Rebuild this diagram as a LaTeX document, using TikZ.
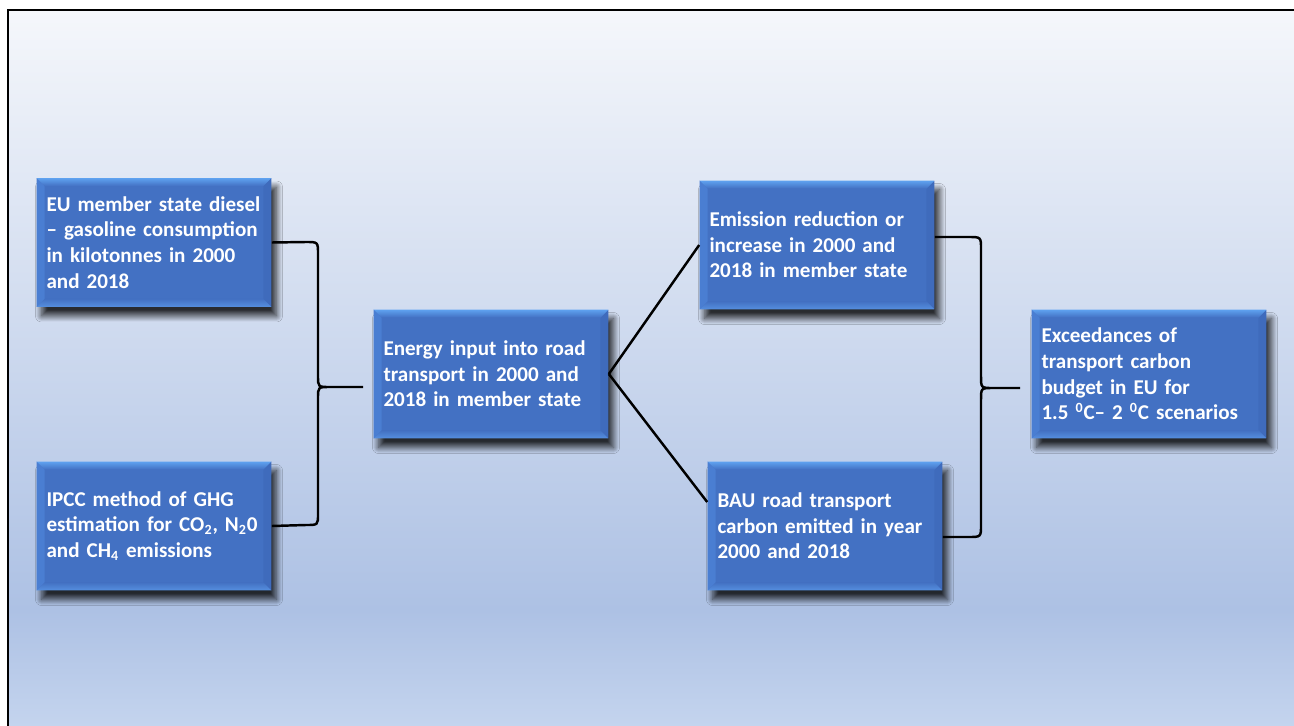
\documentclass[tikz,border=0pt]{standalone}
\usepackage{fontspec}
\setmainfont{Carlito}
\usetikzlibrary{calc, shadows.blur}

\definecolor{boxface}{HTML}{4371C3}
\definecolor{beveltop}{HTML}{5FA2F0}
\definecolor{bevelbot}{HTML}{5690E0}
\definecolor{bevelleft}{HTML}{4A7ED2}
\definecolor{bevelright}{HTML}{3F6BBC}
\definecolor{bgtop}{HTML}{F5F7FB}
\definecolor{bgdeep}{HTML}{ADC1E4}
\definecolor{bgbot}{HTML}{C4D4EE}

\newcommand{\bvl}{0.16cm}

\tikzset{
  bevel/.style={path picture={
    \path (path picture bounding box.north west) coordinate (pnw)
          (path picture bounding box.north east) coordinate (pne)
          (path picture bounding box.south east) coordinate (pse)
          (path picture bounding box.south west) coordinate (psw);
    \fill[bevelleft] (pnw) -- ([shift={(\bvl,-\bvl)}]pnw) -- ([shift={(\bvl,\bvl)}]psw) -- (psw) -- cycle;
    \fill[bevelright] (pne) -- ([shift={(-\bvl,-\bvl)}]pne) -- ([shift={(-\bvl,\bvl)}]pse) -- (pse) -- cycle;
    \shade[top color=beveltop, bottom color=boxface] (pnw) -- (pne) -- ([shift={(-\bvl,-\bvl)}]pne) -- ([shift={(\bvl,-\bvl)}]pnw) -- cycle;
    \shade[top color=boxface, bottom color=bevelbot] (psw) -- (pse) -- ([shift={(-\bvl,\bvl)}]pse) -- ([shift={(\bvl,\bvl)}]psw) -- cycle;
  }}
}

\begin{document}
\begin{tikzpicture}[
  x=0.02cm, y=-0.02cm,
  font=\fontsize{12}{14.6}\selectfont\bfseries,
  block/.style={rectangle, fill=boxface, text=white, minimum width=4.68cm, minimum height=2.58cm,
    text width=4.3cm, inner xsep=0.2cm, inner ysep=0pt, align=left, bevel,
    blur shadow={shadow xshift=0.1cm, shadow yshift=-0.18cm, shadow blur radius=0.12cm,
      shadow blur steps=12, shadow opacity=80}},
  brace/.style={line width=1.4pt},
  link/.style={line width=1.4pt}
]
  % page and backdrop
  \useasboundingbox (0,0) rectangle (1294,726);
  \fill[white] (0,0) rectangle (1294,726);
  \shade[top color=bgtop, bottom color=bgdeep] (8,10) rectangle (1294,610);
  \shade[top color=bgdeep, bottom color=bgbot] (8,610) rectangle (1294,726);
  \draw[line width=1.3pt] (1294,10) -- (8,10) -- (8,726);

  % boxes
  \node[block] (fuel) at (154,242.5) {EU member state diesel\\ -- gasoline consumption\\ in kilotonnes in 2000\\ and 2018};
  \node[block] (ipcc) at (154,526) {IPCC method of GHG\\ estimation for CO\textsubscript{2}, N\textsubscript{2}0\\ and CH\textsubscript{4} emissions};
  \node[block] (energy) at (491,374) {Energy input into road\\ transport in 2000 and\\ 2018 in member state};
  \node[block] (change) at (817,245) {Emission reduction or\\ increase in 2000 and\\ 2018 in member state};
  \node[block] (bau) at (825,526) {BAU road transport\\ carbon emitted in year\\ 2000 and 2018};
  \node[block] (budget) at (1149,374) {Exceedances of\\ transport carbon\\ budget in EU for\\ 1.5 \textsuperscript{0}C-- 2 \textsuperscript{0}C scenarios};

  % braces
  \coordinate (ltip) at (363,387);
  \coordinate (rtip) at (1020,388);
  \draw[brace] (fuel.east) -- (306,242) .. controls (318,242) .. (318,254) -- (318,376)
    .. controls (318,387) .. (330,387) -- (ltip)
    (330,387) .. controls (318,387) .. (318,398) -- (318,514)
    .. controls (318,525) .. (306,525) -- (ipcc.east);
  \draw[brace] ($(change.east)+(0,-8)$) -- (968,237) .. controls (981,237) .. (981,249) -- (981,376)
    .. controls (981,388) .. (993,388) -- (rtip)
    (993,388) .. controls (981,388) .. (981,400) -- (981,525)
    .. controls (981,537) .. (968,537) -- ($(bau.east)+(0,11)$);

  % links
  \draw[link] (energy.east) -- (change.west);
  \draw[link] (energy.east) -- ($(bau.west)+(0,-24)$);
\end{tikzpicture}
\end{document}
